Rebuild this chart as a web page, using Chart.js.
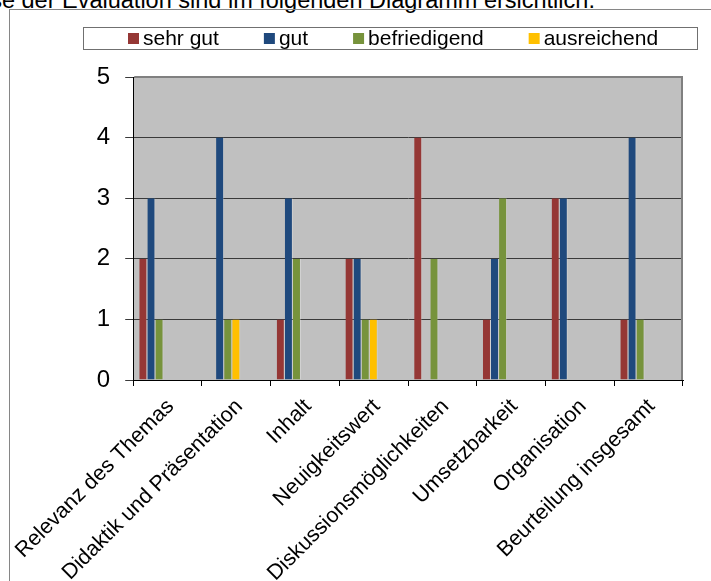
<!DOCTYPE html>
<html><head><meta charset="utf-8">
<script src="https://cdn.jsdelivr.net/npm/chart.js@4"></script>
<style>
html,body{margin:0;padding:0;background:#fff;overflow:hidden;width:711px;height:581px;}
#intro{position:absolute;left:-10px;top:-13px;font:23.5px "Liberation Sans",Arial,sans-serif;line-height:26px;white-space:nowrap;color:#000;}
#frame{position:absolute;left:9px;top:9px;width:760px;height:640px;border:1px solid #868686;box-sizing:border-box;}
#c{position:absolute;left:0;top:0;}
</style></head><body>
<div id="intro"><span id="lead">se der </span>Evaluation sind im folgenden Diagramm ersichtlich.</div>
<div id="frame"></div>
<canvas id="c" width="711" height="581"></canvas>
<script>
const categories = ['Relevanz des Themas','Didaktik und Präsentation','Inhalt','Neuigkeitswert','Diskussionsmöglichkeiten','Umsetzbarkeit','Organisation','Beurteilung insgesamt'];
const sehrGut      = [2, 0, 1, 2, 4, 1, 3, 1];
const gut          = [3, 4, 3, 2, 0, 2, 3, 4];
const befriedigend = [1, 1, 2, 1, 2, 3, 0, 1];
const ausreichend  = [0, 1, 0, 1, 0, 0, 0, 0];
const seriesNames  = ['sehr gut', 'gut', 'befriedigend', 'ausreichend'];
const seriesColors = ['#953735', '#1F497D', '#77933C', '#FFC000'];
const yMin = 0, yMax = 5, yStep = 1;

const FONT = '"Liberation Sans", Arial, sans-serif';
const seriesData = [sehrGut, gut, befriedigend, ausreichend];

// place the cut-off intro line so that "Evaluation" starts where it does in the reference
(function () {
  const lead = document.getElementById('lead');
  document.getElementById('intro').style.left = (62 - lead.getBoundingClientRect().width) + 'px';
})();

const datasets = seriesData.map((d, i) => ({
  label: seriesNames[i],
  data: d,
  backgroundColor: seriesColors[i],
  borderColor: 'rgba(255,255,255,0.28)',
  borderWidth: {left: 0, right: 1, top: 0, bottom: 0},
  borderSkipped: 'bottom',
  categoryPercentage: 0.8235,
  barPercentage: 1
}));
// three further (empty) series slots of the original cluster, not listed in the legend
for (let k = 0; k < 3; k++) {
  datasets.push({label: '', data: [], backgroundColor: 'rgba(0,0,0,0)', categoryPercentage: 0.8235, barPercentage: 1});
}

const plotFrame = {
  id: 'plotFrame',
  beforeDraw(chart) {
    const a = chart.chartArea, ctx = chart.ctx;
    ctx.save();
    ctx.fillStyle = '#C0C0C0';
    ctx.fillRect(a.left, a.top, a.right - a.left, a.bottom - a.top);
    ctx.restore();
  },
  afterDraw(chart) {
    const a = chart.chartArea, ctx = chart.ctx;
    ctx.save();
    ctx.strokeStyle = '#808080';
    ctx.lineWidth = 2;
    ctx.beginPath();
    ctx.moveTo(a.left + 1, a.top);
    ctx.lineTo(a.right - 1, a.top);
    ctx.lineTo(a.right - 1, a.bottom);
    ctx.stroke();
    ctx.restore();
  }
};

const boxLegend = {
  id: 'boxLegend',
  afterDraw(chart) {
    const ctx = chart.ctx;
    ctx.save();
    ctx.strokeStyle = '#707070';
    ctx.lineWidth = 1;
    ctx.strokeRect(83.5, 27.5, 614, 22);
    ctx.font = '21px ' + FONT;
    ctx.textBaseline = 'middle';
    ctx.textAlign = 'left';
    let x = 128;
    const cy = 38.5, box = 11, gapText = 4, gapItem = 45;
    chart.data.datasets.forEach(ds => {
      if (!ds.label) return;
      ctx.fillStyle = ds.backgroundColor;
      ctx.fillRect(x, cy - box / 2, box, box);
      ctx.fillStyle = '#000';
      ctx.fillText(ds.label, x + box + gapText, cy + 1);
      x += box + gapText + ctx.measureText(ds.label).width + gapItem;
    });
    ctx.restore();
  }
};

new Chart(document.getElementById('c'), {
  type: 'bar',
  data: {labels: categories, datasets},
  plugins: [plotFrame, boxLegend],
  options: {
    responsive: false,
    animation: false,
    devicePixelRatio: 1,
    layout: {padding: {left: 0, top: 77, right: 28, bottom: 0}},
    plugins: {legend: {display: false}, tooltip: {enabled: false}, title: {display: false}},
    scales: {
      y: {
        min: yMin, max: yMax,
        afterFit(s) { s.width = 133; },
        ticks: {stepSize: yStep, color: '#000', padding: 15, font: {family: FONT, size: 24}},
        grid: {color: '#3a3a3a', lineWidth: 1, tickLength: 8, drawTicks: true},
        border: {color: '#000', width: 1}
      },
      x: {
        afterFit(s) { s.height = 201; },
        ticks: {color: '#000', maxRotation: 45, minRotation: 45, autoSkip: false, padding: 8, labelOffset: 3, font: {family: FONT, size: 21.5}},
        grid: {display: true, drawOnChartArea: false, drawTicks: true, tickLength: 6, color: '#000', offset: true},
        border: {color: '#000', width: 1}
      }
    }
  }
});
</script>
</body></html>
